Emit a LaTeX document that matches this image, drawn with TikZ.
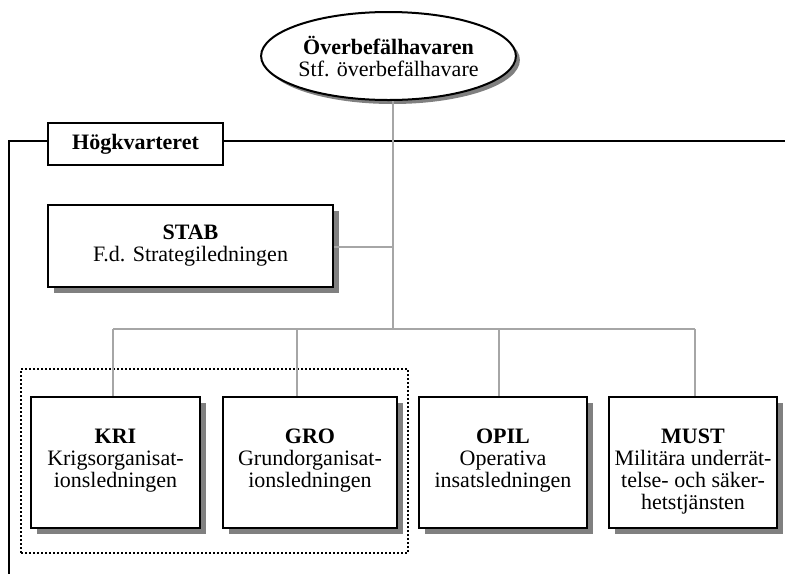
\documentclass[tikz,border=0pt]{standalone}
\usepackage{fontspec}
\setmainfont{Liberation Serif}
\usetikzlibrary{shapes.geometric,shadows,positioning}
\definecolor{conngray}{HTML}{A6A6A6}
\definecolor{shadowgray}{HTML}{808080}
\tikzset{
  every node/.style={font=\fontsize{22}{22}\selectfont},
  orgbox/.style={draw=black, line width=2pt, fill=white, rectangle, inner sep=0pt,
    drop shadow={shadow xshift=5.5pt, shadow yshift=-5.5pt, fill=shadowgray, opacity=1}},
  ellbox/.style={draw=black, line width=2pt, fill=white, ellipse, inner sep=0pt,
    minimum width=250pt, minimum height=88pt, align=center,
    drop shadow={shadow xshift=4pt, shadow yshift=-4pt, fill=shadowgray, opacity=1}},
  hqbox/.style={draw=black, line width=2pt, fill=white, rectangle, inner sep=0pt,
    minimum width=175pt, minimum height=42pt},
  boxtext/.style={align=center, inner sep=0pt, anchor=north},
  conn/.style={draw=conngray, line width=2pt},
  frameline/.style={draw=black, line width=2pt},
  groupbox/.style={draw=black, line width=1.8pt, dash pattern=on 1.8pt off 2.2pt}
}
\begin{document}
\begin{tikzpicture}[x=1pt,y=-1pt]
\useasboundingbox (0,0) rectangle (785,574);

% frame of Högkvarteret
\node[hqbox] (hq) at (135.5,144) {\textbf{Högkvarteret}};
\coordinate (fl) at (9,141);
\coordinate (fr) at (785,141);
\coordinate (fb) at (9,574);
\draw[frameline] (hq.west |- fl) -- (fl) -- (fb);
\draw[frameline] (hq.east |- fr) -- (fr);

% junction coordinates
\coordinate (tx) at (393,329);
\coordinate (b1) at (113,329);
\coordinate (b2) at (297,329);
\coordinate (b3) at (499,329);
\coordinate (b4) at (695,329);
\coordinate (sj) at (393,247);

% dotted group
\node[groupbox, rectangle, minimum width=387pt, minimum height=184pt, inner sep=0pt] (grp) at (214.5,461) {};

% boxes
\node[ellbox] (obh) at (388.5,56) {\textbf{Överbefälhavaren}\\Stf. överbefälhavare};
\node[orgbox, minimum width=285pt, minimum height=82pt, align=center] (stab) at (190.5,246) {\textbf{STAB}\\F.d. Strategiledningen};

\draw[conn] (obh.south -| tx) -- (tx);
\draw[conn] (stab.east |- sj) -- (sj);
\draw[conn] (b1) -- (b4);

\node[orgbox, minimum width=169pt, minimum height=131pt] (kri) at (115.5,462.5) {};
\node[orgbox, minimum width=174pt, minimum height=131pt] (gro) at (310,462.5) {};
\node[orgbox, minimum width=168pt, minimum height=131pt] (opil) at (503,462.5) {};
\node[orgbox, minimum width=168pt, minimum height=131pt] (must) at (693,462.5) {};

\draw[conn] (b1) -- (b1 |- kri.north);
\draw[conn] (b2) -- (b2 |- gro.north);
\draw[conn] (b3) -- (b3 |- opil.north);
\draw[conn] (b4) -- (b4 |- must.north);

\node[boxtext] (krit) at ([yshift=-33pt]kri.north) {\textbf{KRI}\\Krigsorganisat-\\ionsledningen};
\node[boxtext] (grot) at ([yshift=-33pt]gro.north) {\textbf{GRO}\\Grundorganisat-\\ionsledningen};
\node[boxtext] (opilt) at ([yshift=-33pt]opil.north) {\textbf{OPIL}\\Operativa\\insatsledningen};
\node[boxtext] (mustt) at ([yshift=-33pt]must.north) {\textbf{MUST}\\Militära underrät-\\telse- och säker-\\hetstjänsten};
\end{tikzpicture}
\end{document}
